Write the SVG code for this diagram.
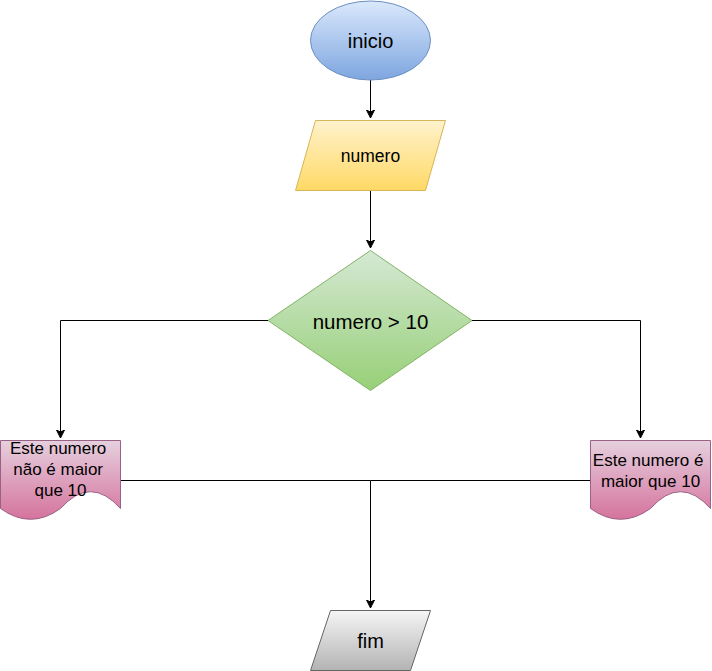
<svg xmlns="http://www.w3.org/2000/svg" width="712" height="671" viewBox="0 0 712 671">
  <style>
    .lbl { font-family: "Liberation Sans", Arial, sans-serif; fill: #000; text-anchor: middle; dominant-baseline: central; }
    .edge { fill: none; stroke: #000; stroke-width: 1; }
  </style>
  <defs>
    <linearGradient id="gBlue" x1="0" y1="0" x2="0" y2="1">
      <stop offset="0" stop-color="#dae8fc"/>
      <stop offset="1" stop-color="#7ea6e0"/>
    </linearGradient>
    <linearGradient id="gYellow" x1="0" y1="0" x2="0" y2="1">
      <stop offset="0" stop-color="#fff2cc"/>
      <stop offset="1" stop-color="#ffd966"/>
    </linearGradient>
    <linearGradient id="gGreen" x1="0" y1="0" x2="0" y2="1">
      <stop offset="0" stop-color="#d5e8d4"/>
      <stop offset="1" stop-color="#97d077"/>
    </linearGradient>
    <linearGradient id="gPink" x1="0" y1="0" x2="0" y2="1">
      <stop offset="0" stop-color="#e6d0de"/>
      <stop offset="1" stop-color="#d5739d"/>
    </linearGradient>
    <linearGradient id="gGray" x1="0" y1="0" x2="0" y2="1">
      <stop offset="0" stop-color="#f5f5f5"/>
      <stop offset="1" stop-color="#b3b3b3"/>
    </linearGradient>
    <marker id="arrow" markerWidth="10" markerHeight="10" refX="8" refY="4" orient="auto" markerUnits="userSpaceOnUse">
      <path d="M0,0 L8,4 L0,8 L2,4 Z" fill="#000" stroke="#000" stroke-width="1"/>
    </marker>
  </defs>

  <!-- connectors -->
  <g id="edges">
    <path class="edge" d="M370.5,80 V118" marker-end="url(#arrow)"/>
    <path class="edge" d="M370.5,190 V248" marker-end="url(#arrow)"/>
    <path class="edge" d="M268,320.5 H60.5 V438" marker-end="url(#arrow)"/>
    <path class="edge" d="M472,320.5 H640.5 V438" marker-end="url(#arrow)"/>
    <path class="edge" d="M120.5,480.5 H370.5"/>
    <path class="edge" d="M590,480.5 H370.5"/>
    <path class="edge" d="M370.5,480.5 V608" marker-end="url(#arrow)"/>
  </g>

  <!-- start -->
  <g id="node-inicio">
    <ellipse cx="370.5" cy="40.5" rx="60" ry="39.5" fill="url(#gBlue)" stroke="#6c8ebf"/>
    <text class="lbl" x="370.5" y="41" font-size="20">inicio</text>
  </g>

  <!-- input -->
  <g id="node-numero">
    <polygon points="315.5,120.5 445.5,120.5 425.5,190.5 295.5,190.5" fill="url(#gYellow)" stroke="#d6b656"/>
    <text class="lbl" x="370.5" y="155.5" font-size="17.5">numero</text>
  </g>

  <!-- decision -->
  <g id="node-decisao">
    <polygon points="370.5,250.5 472,320.5 370.5,390.5 268,320.5" fill="url(#gGreen)" stroke="#82b366"/>
    <text class="lbl" x="370.5" y="321" font-size="20.5">numero &gt; 10</text>
  </g>

  <!-- output: not greater -->
  <g id="node-nao-maior">
    <path d="M0.5,440.5 H120.5 V508.5 Q90.5,474.9 60.5,508.5 Q30.5,530.1 0.5,508.5 Z" fill="url(#gPink)" stroke="#996185"/>
    <text class="lbl" font-size="17">
      <tspan x="60.5" y="448">Este numero</tspan>
      <tspan x="60.5" y="469">não é maior</tspan>
      <tspan x="60.5" y="490">que 10</tspan>
    </text>
  </g>

  <!-- output: greater -->
  <g id="node-maior">
    <path d="M590.5,440.5 H710.5 V508.5 Q680.5,474.9 650.5,508.5 Q620.5,530.1 590.5,508.5 Z" fill="url(#gPink)" stroke="#996185"/>
    <text class="lbl" font-size="17">
      <tspan x="650.5" y="460">Este numero é</tspan>
      <tspan x="650.5" y="481">maior que 10</tspan>
    </text>
  </g>

  <!-- end -->
  <g id="node-fim">
    <polygon points="330.5,610.5 430.5,610.5 410.5,670.5 310.5,670.5" fill="url(#gGray)" stroke="#666666"/>
    <text class="lbl" x="370.5" y="641" font-size="20">fim</text>
  </g>
</svg>
